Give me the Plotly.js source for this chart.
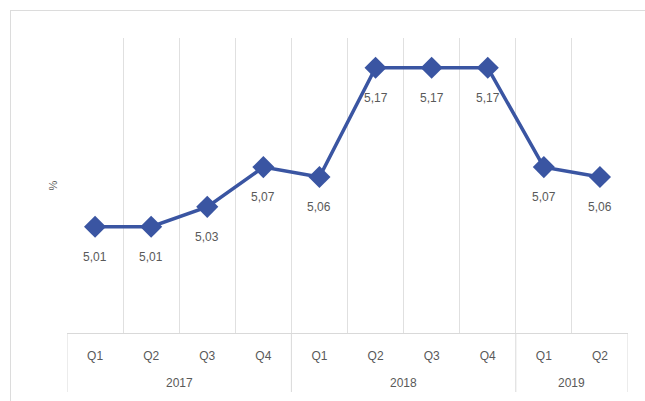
<!DOCTYPE html>
<html>
<head>
<meta charset="utf-8">
<script src="https://cdn.plot.ly/plotly-3.0.1.min.js"></script>
<style>
html,body{margin:0;padding:0;background:#fff;}
#wrap{position:relative;width:645px;height:401px;overflow:hidden;}
#frame{position:absolute;left:10px;top:10px;width:700px;height:500px;border:1px solid #dcdcdc;}
#chart{position:absolute;left:0;top:0;width:645px;height:401px;}
</style>
</head>
<body>
<div id="wrap"><div id="frame"></div><div id="chart"></div></div>
<script>
var years = ["2017","2018","2019"];
var quartersPerYear = [4, 4, 2];
var quarters = ["Q1","Q2","Q3","Q4","Q1","Q2","Q3","Q4","Q1","Q2"];
var values = [5.01, 5.01, 5.03, 5.07, 5.06, 5.17, 5.17, 5.17, 5.07, 5.06];
var labels = ["5,01","5,01","5,03","5,07","5,06","5,17","5,17","5,17","5,07","5,06"];

var blue = "#3a55a2";
var grey = "#595959";
var lineGrey = "#d9d9d9";
var fnt = "Liberation Sans, Arial";

var idx = quarters.map(function(q, i){ return i; });
var bounds = [];
for (var b = 0; b <= quarters.length; b++) bounds.push(b - 0.5);

var trace = {
  x: idx,
  y: values,
  type: "scatter",
  mode: "lines+markers",
  line: {color: blue, width: 3.5},
  marker: {symbol: "diamond", size: 17, color: blue},
  hoverinfo: "skip"
};

var annotations = values.map(function(v, i){
  return {x: i, y: v, xref: "x", yref: "y", text: labels[i], showarrow: false,
          yshift: -30, font: {family: fnt, size: 12, color: grey}};
});

var shapes = [];
var start = 0;
years.forEach(function(yr, k){
  var n = quartersPerYear[k];
  annotations.push({x: start + (n - 1) / 2, y: -0.17, xref: "x", yref: "paper", yanchor: "middle",
    text: yr, showarrow: false, font: {family: fnt, size: 12, color: grey}});
  shapes.push({type: "line", xref: "x", yref: "paper", x0: start - 0.5, x1: start - 0.5,
    y0: 0, y1: -0.2, line: {color: lineGrey, width: 1}});
  start += n;
});
shapes.push({type: "line", xref: "x", yref: "paper", x0: start - 0.5, x1: start - 0.5,
  y0: 0, y1: -0.2, line: {color: lineGrey, width: 1}});

var layout = {
  width: 645, height: 401,
  margin: {l: 67, r: 17, t: 38, b: 68},
  paper_bgcolor: "rgba(0,0,0,0)",
  plot_bgcolor: "rgba(0,0,0,0)",
  showlegend: false,
  xaxis: {
    range: [-0.5, quarters.length - 0.5],
    tickmode: "array", tickvals: idx, ticktext: quarters,
    showgrid: false,
    minor: {tickmode: "array", tickvals: bounds, showgrid: true, gridcolor: "#e0e0e0", gridwidth: 1, ticks: ""},
    showline: true, linecolor: lineGrey, linewidth: 1,
    ticks: "", ticklabelstandoff: 12,
    tickfont: {family: fnt, size: 12, color: grey},
    zeroline: false
  },
  yaxis: {
    range: [4.903, 5.2],
    showgrid: false, zeroline: false, showticklabels: false, ticks: "",
    showline: false,
    title: {text: "%", font: {family: fnt, size: 11, color: grey}, standoff: 6}
  },
  annotations: annotations,
  shapes: shapes
};

Plotly.newPlot("chart", [trace], layout, {displayModeBar: false, staticPlot: true});
</script>
</body>
</html>
